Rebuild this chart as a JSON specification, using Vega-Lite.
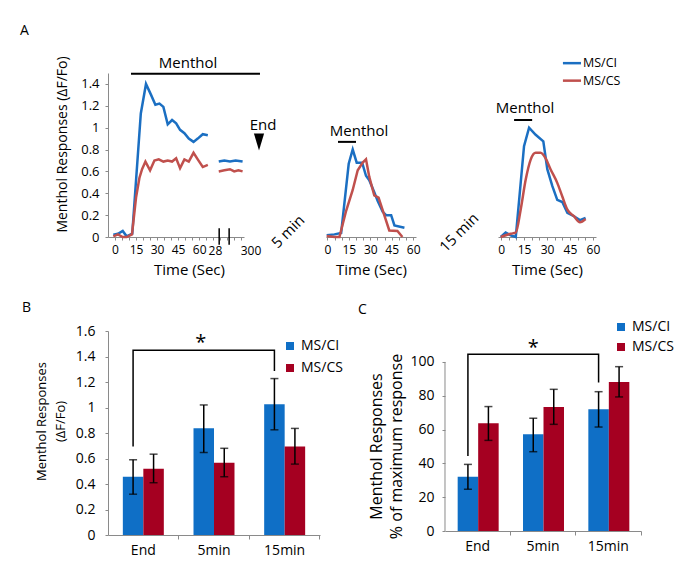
{
  "$schema": "https://vega.github.io/schema/vega-lite/v6.json",
  "background": "white",
  "padding": {"left": 19, "top": 23, "right": 5, "bottom": 5},
  "config": {
    "font": "Open Sans",
    "view": {"stroke": null},
    "axis": {"domainColor": "#8a8a8a", "tickColor": "#8a8a8a", "labelColor": "#000", "titleColor": "#000", "grid": false, "labelFontSize": 13, "titleFontSize": 15, "titleFontWeight": "normal", "tickSize": 3, "labelOverlap": false, "tickCount": 100},
    "text": {"font": "Open Sans", "color": "#000"}
  },
  "bounds": "flush",
  "spacing": 258,
  "resolve": {"scale": {"color": "independent"}, "legend": {"color": "independent"}},
  "vconcat": [
    {
      "bounds": "flush",
      "spacing": 82,
      "resolve": {"scale": {"color": "independent"}, "legend": {"color": "independent"}},
      "hconcat": [
        {
          "width": 136, "height": 164,
          "layer": [
            {
              "data": {"values": [
                {"t": -1.2, "v": 0.02, "series": "MS/CI", "seg": "a"},
                {"t": 2.1, "v": 0.03, "series": "MS/CI", "seg": "a"},
                {"t": 5.5, "v": 0.055, "series": "MS/CI", "seg": "a"},
                {"t": 8.3, "v": 0.006, "series": "MS/CI", "seg": "a"},
                {"t": 12.3, "v": 0.03, "series": "MS/CI", "seg": "a"},
                {"t": 18.4, "v": 1.13, "series": "MS/CI", "seg": "a"},
                {"t": 22.1, "v": 1.4, "series": "MS/CI", "seg": "a"},
                {"t": 25.7, "v": 1.3, "series": "MS/CI", "seg": "a"},
                {"t": 28.8, "v": 1.21, "series": "MS/CI", "seg": "a"},
                {"t": 31.7, "v": 1.22, "series": "MS/CI", "seg": "a"},
                {"t": 34.5, "v": 1.19, "series": "MS/CI", "seg": "a"},
                {"t": 37.6, "v": 1.03, "series": "MS/CI", "seg": "a"},
                {"t": 40.7, "v": 1.07, "series": "MS/CI", "seg": "a"},
                {"t": 43.6, "v": 1.04, "series": "MS/CI", "seg": "a"},
                {"t": 46.4, "v": 0.98, "series": "MS/CI", "seg": "a"},
                {"t": 49.5, "v": 0.95, "series": "MS/CI", "seg": "a"},
                {"t": 52.6, "v": 0.9, "series": "MS/CI", "seg": "a"},
                {"t": 56, "v": 0.87, "series": "MS/CI", "seg": "a"},
                {"t": 59, "v": 0.9, "series": "MS/CI", "seg": "a"},
                {"t": 62.6, "v": 0.94, "series": "MS/CI", "seg": "a"},
                {"t": 66.2, "v": 0.93, "series": "MS/CI", "seg": "a"},
                {"t": 74, "v": 0.69, "series": "MS/CI", "seg": "b"},
                {"t": 78, "v": 0.7, "series": "MS/CI", "seg": "b"},
                {"t": 82, "v": 0.69, "series": "MS/CI", "seg": "b"},
                {"t": 86, "v": 0.7, "series": "MS/CI", "seg": "b"},
                {"t": 91, "v": 0.69, "series": "MS/CI", "seg": "b"},
                {"t": -1.2, "v": 0.006, "series": "MS/CS", "seg": "a"},
                {"t": 2.1, "v": 0.024, "series": "MS/CS", "seg": "a"},
                {"t": 5.5, "v": 0, "series": "MS/CS", "seg": "a"},
                {"t": 8.3, "v": 0, "series": "MS/CS", "seg": "a"},
                {"t": 12.1, "v": 0.024, "series": "MS/CS", "seg": "a"},
                {"t": 15, "v": 0.36, "series": "MS/CS", "seg": "a"},
                {"t": 17.4, "v": 0.54, "series": "MS/CS", "seg": "a"},
                {"t": 19.3, "v": 0.62, "series": "MS/CS", "seg": "a"},
                {"t": 21.7, "v": 0.69, "series": "MS/CS", "seg": "a"},
                {"t": 25, "v": 0.61, "series": "MS/CS", "seg": "a"},
                {"t": 28.1, "v": 0.7, "series": "MS/CS", "seg": "a"},
                {"t": 31.2, "v": 0.71, "series": "MS/CS", "seg": "a"},
                {"t": 34.5, "v": 0.69, "series": "MS/CS", "seg": "a"},
                {"t": 37.6, "v": 0.7, "series": "MS/CS", "seg": "a"},
                {"t": 40.7, "v": 0.69, "series": "MS/CS", "seg": "a"},
                {"t": 43.6, "v": 0.72, "series": "MS/CS", "seg": "a"},
                {"t": 46.4, "v": 0.63, "series": "MS/CS", "seg": "a"},
                {"t": 49.5, "v": 0.71, "series": "MS/CS", "seg": "a"},
                {"t": 52.6, "v": 0.69, "series": "MS/CS", "seg": "a"},
                {"t": 56, "v": 0.77, "series": "MS/CS", "seg": "a"},
                {"t": 59, "v": 0.71, "series": "MS/CS", "seg": "a"},
                {"t": 62.6, "v": 0.64, "series": "MS/CS", "seg": "a"},
                {"t": 66.2, "v": 0.66, "series": "MS/CS", "seg": "a"},
                {"t": 74, "v": 0.6, "series": "MS/CS", "seg": "b"},
                {"t": 78, "v": 0.61, "series": "MS/CS", "seg": "b"},
                {"t": 82, "v": 0.62, "series": "MS/CS", "seg": "b"},
                {"t": 85, "v": 0.6, "series": "MS/CS", "seg": "b"},
                {"t": 88, "v": 0.61, "series": "MS/CS", "seg": "b"},
                {"t": 91, "v": 0.6, "series": "MS/CS", "seg": "b"}
              ]},
              "mark": {"type": "line", "strokeWidth": 2.5},
              "encoding": {
                "x": {"field": "t", "type": "quantitative", "scale": {"domain": [-5, 92], "nice": false, "zero": false},
                  "axis": {"values": [0, 5, 10, 15, 20, 25, 30, 35, 40, 45, 50, 55, 60, 65, 70, 75, 80, 85, 90], "tickCount": 100, "format": "d", "labelFontSize": 12, "labelExpr": "indexof([0,15,30,45,60], datum.value) >= 0 ? datum.label : ''", "labelOverlap": false, "title": "Time (Sec)", "titleX": 81, "titlePadding": 7, "labelPadding": 4, "labelFlush": false}},
                "y": {"field": "v", "type": "quantitative", "scale": {"domain": [0, 1.5], "nice": false},
                  "axis": {"values": [0, 0.2, 0.4, 0.6, 0.8, 1, 1.2, 1.4], "tickCount": 100, "format": "~g", "labelOverlap": false, "title": "Menthol Responses (ΔF/Fo)", "titleFontSize": 14, "titleAngle": 270, "titleX": -52.5, "titleY": 71, "titleAlign": "center", "titleBaseline": "top", "labelPadding": 6}},
                "color": {"field": "series", "type": "nominal", "scale": {"domain": ["MS/CI", "MS/CS"], "range": ["#1b6fc2", "#c0504d"]}, "legend": null},
                "detail": {"field": "seg"}
              }
            },
            {
              "data": {"values": [{"t": 11.4, "t2": 103.4, "v": 1.494}]},
              "mark": {"type": "rule", "strokeWidth": 2, "color": "#000"},
              "encoding": {"x": {"field": "t", "type": "quantitative"}, "x2": {"field": "t2"}, "y": {"field": "v", "type": "quantitative"}}
            },
            {
              "data": {"values": [{"t": 74.3, "v": -0.07, "v2": 0.08}, {"t": 81.4, "v": -0.07, "v2": 0.08}]},
              "mark": {"type": "rule", "strokeWidth": 1.5, "color": "#000"},
              "encoding": {"x": {"field": "t", "type": "quantitative"}, "y": {"field": "v", "type": "quantitative"}, "y2": {"field": "v2"}}
            },
            {
              "data": {"values": [{"t": 52.1, "v": 1.587, "label": "Menthol"}, {"t": 105.6, "v": 1.025, "label": "End"}]},
              "mark": {"type": "text", "fontSize": 15, "baseline": "middle", "align": "center"},
              "encoding": {"x": {"field": "t", "type": "quantitative"}, "y": {"field": "v", "type": "quantitative"}, "text": {"field": "label"}}
            },
            {
              "data": {"values": [{"t": -67.8, "v": 1.885, "label": "A"}]},
              "mark": {"type": "text", "fontSize": 14, "baseline": "middle", "align": "left"},
              "encoding": {"x": {"field": "t", "type": "quantitative"}, "y": {"field": "v", "type": "quantitative"}, "text": {"field": "label"}}
            },
            {
              "data": {"values": [{"t": 71.6, "v": -0.128, "label": "28"}, {"t": 97, "v": -0.128, "label": "300"}]},
              "mark": {"type": "text", "fontSize": 12, "baseline": "middle", "align": "center"},
              "encoding": {"x": {"field": "t", "type": "quantitative"}, "y": {"field": "v", "type": "quantitative"}, "text": {"field": "label"}}
            },
            {
              "data": {"values": [{"t": 102.7, "v": 0.87}]},
              "mark": {"type": "point", "shape": "M-0.6,-1L0.6,-1L0,1Z", "size": 289, "filled": true, "color": "#000", "opacity": 1},
              "encoding": {"x": {"field": "t", "type": "quantitative"}, "y": {"field": "v", "type": "quantitative"}}
            }
          ]
        },
        {
          "width": 90, "height": 164,
          "layer": [
            {
              "data": {"values": [
                {"t": -0.5, "v": 0.015, "series": "MS/CI"},
                {"t": 4.9, "v": 0.024, "series": "MS/CI"},
                {"t": 9.6, "v": 0.036, "series": "MS/CI"},
                {"t": 14.9, "v": 0.67, "series": "MS/CI"},
                {"t": 17.7, "v": 0.8, "series": "MS/CI"},
                {"t": 20.5, "v": 0.68, "series": "MS/CI"},
                {"t": 24.3, "v": 0.68, "series": "MS/CI"},
                {"t": 27, "v": 0.56, "series": "MS/CI"},
                {"t": 29.3, "v": 0.52, "series": "MS/CI"},
                {"t": 32.8, "v": 0.41, "series": "MS/CI"},
                {"t": 35.2, "v": 0.33, "series": "MS/CI"},
                {"t": 38.7, "v": 0.23, "series": "MS/CI"},
                {"t": 41.1, "v": 0.2, "series": "MS/CI"},
                {"t": 44.6, "v": 0.2, "series": "MS/CI"},
                {"t": 46.9, "v": 0.106, "series": "MS/CI"},
                {"t": 53.9, "v": 0.085, "series": "MS/CI"},
                {"t": -0.5, "v": 0.01, "series": "MS/CS"},
                {"t": 5, "v": 0, "series": "MS/CS"},
                {"t": 8.4, "v": 0, "series": "MS/CS"},
                {"t": 13.1, "v": 0.24, "series": "MS/CS"},
                {"t": 17.7, "v": 0.43, "series": "MS/CS"},
                {"t": 21.2, "v": 0.61, "series": "MS/CS"},
                {"t": 24.7, "v": 0.68, "series": "MS/CS"},
                {"t": 27, "v": 0.71, "series": "MS/CS"},
                {"t": 29.3, "v": 0.55, "series": "MS/CS"},
                {"t": 32.8, "v": 0.38, "series": "MS/CS"},
                {"t": 35.8, "v": 0.36, "series": "MS/CS"},
                {"t": 39.8, "v": 0.2, "series": "MS/CS"},
                {"t": 43.3, "v": 0.06, "series": "MS/CS"},
                {"t": 49, "v": 0.055, "series": "MS/CS"},
                {"t": 52.5, "v": 0, "series": "MS/CS"}
              ]},
              "mark": {"type": "line", "strokeWidth": 2.5},
              "encoding": {
                "x": {"field": "t", "type": "quantitative", "scale": {"domain": [-1, 62], "nice": false, "zero": false},
                  "axis": {"values": [0, 5, 10, 15, 20, 25, 30, 35, 40, 45, 50, 55, 60], "tickCount": 100, "format": "d", "labelFontSize": 12, "labelExpr": "indexof([0,15,30,45,60], datum.value) >= 0 ? datum.label : ''", "labelOverlap": false, "title": "Time (Sec)", "titlePadding": 7, "labelPadding": 4, "labelFlush": false}},
                "y": {"field": "v", "type": "quantitative", "scale": {"domain": [0, 1.5], "nice": false}, "axis": null},
                "color": {"field": "series", "type": "nominal", "scale": {"domain": ["MS/CI", "MS/CS"], "range": ["#1b6fc2", "#c0504d"]}, "legend": null}
              }
            },
            {
              "data": {"values": [{"t": 7.4, "t2": 20, "v": 0.87}]},
              "mark": {"type": "rule", "strokeWidth": 2, "color": "#000"},
              "encoding": {"x": {"field": "t", "type": "quantitative"}, "x2": {"field": "t2"}, "y": {"field": "v", "type": "quantitative"}}
            },
            {
              "data": {"values": [{"t": 22.1, "v": 0.97, "label": "Menthol"}]},
              "mark": {"type": "text", "fontSize": 15, "baseline": "middle", "align": "center"},
              "encoding": {"x": {"field": "t", "type": "quantitative"}, "y": {"field": "v", "type": "quantitative"}, "text": {"field": "label"}}
            },
            {
              "data": {"values": [{"t": -27.6, "v": 0.05, "label": "5 min"}]},
              "mark": {"type": "text", "fontSize": 15, "baseline": "middle", "align": "center", "angle": -45},
              "encoding": {"x": {"field": "t", "type": "quantitative"}, "y": {"field": "v", "type": "quantitative"}, "text": {"field": "label"}}
            }
          ]
        },
        {
          "width": 98, "height": 164,
          "layer": [
            {
              "data": {"values": [
                {"t": -0.2, "v": 0, "series": "MS/CI"},
                {"t": 3, "v": 0.04, "series": "MS/CI"},
                {"t": 6.3, "v": 0.015, "series": "MS/CI"},
                {"t": 9.6, "v": 0, "series": "MS/CI"},
                {"t": 15, "v": 0.83, "series": "MS/CI"},
                {"t": 18.3, "v": 1.0, "series": "MS/CI"},
                {"t": 22.6, "v": 0.935, "series": "MS/CI"},
                {"t": 27.6, "v": 0.875, "series": "MS/CI"},
                {"t": 30.2, "v": 0.62, "series": "MS/CI"},
                {"t": 33.5, "v": 0.465, "series": "MS/CI"},
                {"t": 36.7, "v": 0.34, "series": "MS/CI"},
                {"t": 40, "v": 0.32, "series": "MS/CI"},
                {"t": 43.3, "v": 0.22, "series": "MS/CI"},
                {"t": 47.6, "v": 0.19, "series": "MS/CI"},
                {"t": 51.5, "v": 0.155, "series": "MS/CI"},
                {"t": 55.2, "v": 0.175, "series": "MS/CI"}
              ]},
              "mark": {"type": "line", "strokeWidth": 2.5},
              "encoding": {
                "x": {"field": "t", "type": "quantitative", "scale": {"domain": [-2, 62], "nice": false, "zero": false},
                  "axis": {"values": [0, 5, 10, 15, 20, 25, 30, 35, 40, 45, 50, 55, 60], "tickCount": 100, "format": "d", "labelFontSize": 12, "labelExpr": "indexof([0,15,30,45,60], datum.value) >= 0 ? datum.label : ''", "labelOverlap": false, "title": "Time (Sec)", "titlePadding": 7, "labelPadding": 4, "labelFlush": false}},
                "y": {"field": "v", "type": "quantitative", "scale": {"domain": [0, 1.5], "nice": false}, "axis": null},
                "color": {"field": "series", "type": "nominal", "scale": {"domain": ["MS/CI", "MS/CS"], "range": ["#1b6fc2", "#c0504d"]}, "legend": null}
              }
            },
            {
              "data": {"values": [
                {"t": -0.2, "v": 0, "series": "MS/CS"},
                {"t": 6.3, "v": 0.03, "series": "MS/CS"},
                {"t": 9.6, "v": 0.04, "series": "MS/CS"},
                {"t": 12.8, "v": 0.25, "series": "MS/CS"},
                {"t": 16.1, "v": 0.525, "series": "MS/CS"},
                {"t": 19.4, "v": 0.71, "series": "MS/CS"},
                {"t": 22.6, "v": 0.77, "series": "MS/CS"},
                {"t": 25.8, "v": 0.77, "series": "MS/CS"},
                {"t": 29.1, "v": 0.72, "series": "MS/CS"},
                {"t": 32.3, "v": 0.62, "series": "MS/CS"},
                {"t": 36.7, "v": 0.495, "series": "MS/CS"},
                {"t": 40, "v": 0.37, "series": "MS/CS"},
                {"t": 43.3, "v": 0.25, "series": "MS/CS"},
                {"t": 47.6, "v": 0.19, "series": "MS/CS"},
                {"t": 51.5, "v": 0.135, "series": "MS/CS"},
                {"t": 55.2, "v": 0.165, "series": "MS/CS"}
              ]},
              "mark": {"type": "line", "strokeWidth": 2.5, "interpolate": "monotone"},
              "encoding": {
                "x": {"field": "t", "type": "quantitative"},
                "y": {"field": "v", "type": "quantitative"},
                "color": {"field": "series", "type": "nominal", "legend": null}
              }
            },
            {
              "data": {"values": [{"t": 40.4, "t2": 52.2, "v": 1.59, "series": "MS/CI"}, {"t": 40.4, "t2": 52.2, "v": 1.43, "series": "MS/CS"}]},
              "mark": {"type": "rule", "strokeWidth": 2.5},
              "encoding": {"x": {"field": "t", "type": "quantitative"}, "x2": {"field": "t2"}, "y": {"field": "v", "type": "quantitative"}, "color": {"field": "series", "type": "nominal", "legend": null}}
            },
            {
              "data": {"values": [{"t": 53.5, "v": 1.59, "label": "MS/CI"}, {"t": 53.5, "v": 1.43, "label": "MS/CS"}]},
              "mark": {"type": "text", "fontSize": 12.5, "baseline": "middle", "align": "left"},
              "encoding": {"x": {"field": "t", "type": "quantitative"}, "y": {"field": "v", "type": "quantitative"}, "text": {"field": "label"}}
            },
            {
              "data": {"values": [{"t": 8.5, "t2": 20.3, "v": 1.07}]},
              "mark": {"type": "rule", "strokeWidth": 2, "color": "#000"},
              "encoding": {"x": {"field": "t", "type": "quantitative"}, "x2": {"field": "t2"}, "y": {"field": "v", "type": "quantitative"}}
            },
            {
              "data": {"values": [{"t": 15.7, "v": 1.18, "label": "Menthol"}]},
              "mark": {"type": "text", "fontSize": 15, "baseline": "middle", "align": "center"},
              "encoding": {"x": {"field": "t", "type": "quantitative"}, "y": {"field": "v", "type": "quantitative"}, "text": {"field": "label"}}
            },
            {
              "data": {"values": [{"t": -27.4, "v": 0.04, "label": "15 min"}]},
              "mark": {"type": "text", "fontSize": 15, "baseline": "middle", "align": "center", "angle": -45},
              "encoding": {"x": {"field": "t", "type": "quantitative"}, "y": {"field": "v", "type": "quantitative"}, "text": {"field": "label"}}
            }
          ]
        }
      ]
    },
    {
      "bounds": "flush",
      "spacing": 125,
      "resolve": {"scale": {"color": "independent"}, "legend": {"color": "independent"}},
      "hconcat": [
        {
          "width": 212, "height": 204,
          "layer": [
            {
              "data": {"values": [
                {"time": "End", "group": "MS/CI", "mean": 0.457, "lo": 0.32, "hi": 0.59},
                {"time": "End", "group": "MS/CS", "mean": 0.52, "lo": 0.41, "hi": 0.634},
                {"time": "5min", "group": "MS/CI", "mean": 0.838, "lo": 0.647, "hi": 1.02},
                {"time": "5min", "group": "MS/CS", "mean": 0.567, "lo": 0.457, "hi": 0.68},
                {"time": "15min", "group": "MS/CI", "mean": 1.026, "lo": 0.825, "hi": 1.227},
                {"time": "15min", "group": "MS/CS", "mean": 0.695, "lo": 0.556, "hi": 0.836}
              ]},
              "encoding": {
                "x": {"field": "time", "type": "nominal", "sort": ["End", "5min", "15min"], "scale": {"paddingInner": 0.42, "paddingOuter": 0.21},
                  "axis": {"title": null, "labelAngle": 0, "labelFontSize": 14, "tickSize": 4, "bandPosition": 1.362, "labelPadding": 4, "labelOverlap": false}},
                "xOffset": {"field": "group", "type": "nominal", "sort": ["MS/CI", "MS/CS"]}
              },
              "layer": [
                {
                  "mark": {"type": "bar"},
                  "encoding": {
                    "y": {"field": "mean", "type": "quantitative", "scale": {"domain": [0, 1.6], "nice": false},
                      "axis": {"values": [0, 0.2, 0.4, 0.6, 0.8, 1, 1.2, 1.4, 1.6], "tickCount": 100, "format": "~g", "labelOverlap": false, "labelFontSize": 14, "labelPadding": 10, "title": ["Menthol Responses", "(ΔF/Fo)"], "titleFontSize": 13, "titleLineHeight": 19, "titleAngle": 270, "titleX": -72.5, "titleY": 90, "titleAlign": "center", "titleBaseline": "top"}},
                    "color": {"field": "group", "type": "nominal", "scale": {"domain": ["MS/CI", "MS/CS"], "range": ["#0f6fc6", "#a50021"]},
                      "legend": {"orient": "none", "legendX": 175, "legendY": 8, "title": null, "symbolType": "square", "symbolSize": 64, "labelFontSize": 14, "rowPadding": 8, "padding": 0, "symbolStrokeWidth": 0, "labelFont": "Open Sans"}}
                  }
                },
                {
                  "mark": {"type": "rule", "strokeWidth": 1.5, "color": "#000"},
                  "encoding": {"y": {"field": "lo", "type": "quantitative"}, "y2": {"field": "hi"}}
                },
                {
                  "mark": {"type": "tick", "size": 8, "thickness": 1.5, "color": "#000"},
                  "encoding": {"y": {"field": "lo", "type": "quantitative"}}
                },
                {
                  "mark": {"type": "tick", "size": 8, "thickness": 1.5, "color": "#000"},
                  "encoding": {"y": {"field": "hi", "type": "quantitative"}}
                }
              ]
            },
            {
              "data": {"values": [
                {"time": "End", "group": "MS/CI", "y": 0.695, "o": 1},
                {"time": "End", "group": "MS/CI", "y": 1.449, "o": 2},
                {"time": "15min", "group": "MS/CI", "y": 1.449, "o": 3},
                {"time": "15min", "group": "MS/CI", "y": 1.287, "o": 4}
              ]},
              "mark": {"type": "line", "strokeWidth": 1.5, "color": "#000"},
              "encoding": {
                "x": {"field": "time", "type": "nominal", "sort": ["End", "5min", "15min"]},
                "xOffset": {"field": "group", "type": "nominal", "sort": ["MS/CI", "MS/CS"]},
                "y": {"field": "y", "type": "quantitative"}, "order": {"field": "o", "type": "quantitative"}}
            },
            {
              "data": {"values": [{"time": "5min", "group": "MS/CI", "y": 1.46, "label": "*"}]},
              "mark": {"type": "text", "fontSize": 20, "baseline": "alphabetic", "align": "center", "dx": -3},
              "encoding": {
                "x": {"field": "time", "type": "nominal", "sort": ["End", "5min", "15min"]},
                "xOffset": {"field": "group", "type": "nominal", "sort": ["MS/CI", "MS/CS"]},
                "y": {"field": "y", "type": "quantitative"}, "text": {"field": "label"}}
            },
            {
              "data": {"values": [{"time": "End", "y": 1.78, "label": "B"}]},
              "mark": {"type": "text", "fontSize": 14, "baseline": "middle", "align": "left"},
              "encoding": {
                "x": {"field": "time", "type": "nominal", "sort": ["End", "5min", "15min"], "bandPosition": -2.46},
                "y": {"field": "y", "type": "quantitative"}, "text": {"field": "label"}}
            }
          ]
        },
        {
          "width": 196, "height": 200,
          "layer": [
            {
              "data": {"values": [
                {"time": "End", "group": "MS/CI", "mean": 32.1, "lo": 24.7, "hi": 39.4},
                {"time": "End", "group": "MS/CS", "mean": 63.7, "lo": 53.6, "hi": 73.6},
                {"time": "5min", "group": "MS/CI", "mean": 57.2, "lo": 46.9, "hi": 66.7},
                {"time": "5min", "group": "MS/CS", "mean": 73.4, "lo": 63.1, "hi": 83.8},
                {"time": "15min", "group": "MS/CI", "mean": 72, "lo": 61.5, "hi": 82.4},
                {"time": "15min", "group": "MS/CS", "mean": 88.2, "lo": 79.3, "hi": 97.2}
              ]},
              "encoding": {
                "x": {"field": "time", "type": "nominal", "sort": ["End", "5min", "15min"], "scale": {"paddingInner": 0.388, "paddingOuter": 0.194},
                  "axis": {"title": null, "labelAngle": 0, "labelFontSize": 14, "tickSize": 4, "bandPosition": 1.317, "labelPadding": 4, "labelOverlap": false}},
                "xOffset": {"field": "group", "type": "nominal", "sort": ["MS/CI", "MS/CS"]}
              },
              "layer": [
                {
                  "mark": {"type": "bar"},
                  "encoding": {
                    "y": {"field": "mean", "type": "quantitative", "scale": {"domain": [0, 118.3], "nice": false},
                      "axis": {"values": [0, 20, 40, 60, 80, 100], "tickCount": 100, "format": "d", "domain": false, "labelOverlap": false, "labelFontSize": 14, "labelPadding": 8, "title": ["Menthol Responses", "% of maximum response"], "titleFontSize": 16, "titleLineHeight": 20, "titleAngle": 270, "titleX": -77, "titleY": 115, "titleAlign": "center", "titleBaseline": "top"}},
                    "color": {"field": "group", "type": "nominal", "scale": {"domain": ["MS/CI", "MS/CS"], "range": ["#0f6fc6", "#a50021"]},
                      "legend": {"orient": "none", "legendX": 169, "legendY": -11, "title": null, "symbolType": "square", "symbolSize": 64, "labelFontSize": 14, "rowPadding": 6, "padding": 0, "symbolStrokeWidth": 0, "labelFont": "Open Sans"}}
                  }
                },
                {
                  "mark": {"type": "rule", "strokeWidth": 1.5, "color": "#000"},
                  "encoding": {"y": {"field": "lo", "type": "quantitative"}, "y2": {"field": "hi"}}
                },
                {
                  "mark": {"type": "tick", "size": 8, "thickness": 1.5, "color": "#000"},
                  "encoding": {"y": {"field": "lo", "type": "quantitative"}}
                },
                {
                  "mark": {"type": "tick", "size": 8, "thickness": 1.5, "color": "#000"},
                  "encoding": {"y": {"field": "hi", "type": "quantitative"}}
                }
              ]
            },
            {
              "data": {"values": [
                {"time": "End", "group": "MS/CI", "y": 44.4, "o": 1},
                {"time": "End", "group": "MS/CI", "y": 104.5, "o": 2},
                {"time": "15min", "group": "MS/CI", "y": 104.5, "o": 3},
                {"time": "15min", "group": "MS/CI", "y": 87.8, "o": 4}
              ]},
              "mark": {"type": "line", "strokeWidth": 1.5, "color": "#000"},
              "encoding": {
                "x": {"field": "time", "type": "nominal", "sort": ["End", "5min", "15min"]},
                "xOffset": {"field": "group", "type": "nominal", "sort": ["MS/CI", "MS/CS"]},
                "y": {"field": "y", "type": "quantitative"}, "order": {"field": "o", "type": "quantitative"}}
            },
            {
              "data": {"values": [{"time": "5min", "group": "MS/CI", "y": 104.5, "label": "*"}]},
              "mark": {"type": "text", "fontSize": 20, "baseline": "alphabetic", "align": "center"},
              "encoding": {
                "x": {"field": "time", "type": "nominal", "sort": ["End", "5min", "15min"]},
                "xOffset": {"field": "group", "type": "nominal", "sort": ["MS/CI", "MS/CS"]},
                "y": {"field": "y", "type": "quantitative"}, "text": {"field": "label"}}
            },
            {
              "data": {"values": [{"time": "End", "lo": 0, "hi": 100}]},
              "mark": {"type": "rule", "strokeWidth": 1, "color": "#8a8a8a"},
              "encoding": {
                "x": {"field": "time", "type": "nominal", "sort": ["End", "5min", "15min"], "bandPosition": -0.317},
                "y": {"field": "lo", "type": "quantitative"}, "y2": {"field": "hi"}}
            },
            {
              "data": {"values": [{"time": "End", "y": 131, "label": "C"}]},
              "mark": {"type": "text", "fontSize": 14, "baseline": "middle", "align": "left"},
              "encoding": {
                "x": {"field": "time", "type": "nominal", "sort": ["End", "5min", "15min"], "bandPosition": -2.49},
                "y": {"field": "y", "type": "quantitative"}, "text": {"field": "label"}}
            }
          ]
        }
      ]
    }
  ]
}
